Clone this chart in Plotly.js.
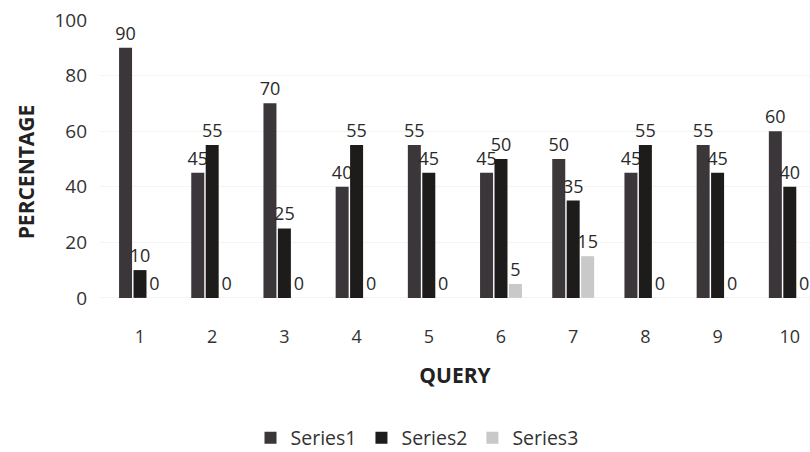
<!DOCTYPE html>
<html><head><meta charset="utf-8">
<script src="https://cdn.plot.ly/plotly-3.0.1.min.js"></script>
<style>body{margin:0;background:#fff}#c{width:810px;height:452px}</style>
</head><body><div id="c"></div>
<script>
const queries = [1,2,3,4,5,6,7,8,9,10];
const tickLabels = ["1","2","3","4","5","6","7","8","9","10"];
const series1 = [90,45,70,40,55,45,50,45,55,60];
const series2 = [10,55,25,55,45,50,35,55,45,40];
const series3 = [0,0,0,0,0,5,15,0,0,0];
const names = ["Series1","Series2","Series3"];
const colors = ["#3a3639","#1e1b1b","#c9c9c9"];
const font = {family:"Open Sans, Lato, sans-serif", color:"#333"};
const data = [series1,series2,series3].map((s,i)=>({
  type:"bar", x:queries, y:s, name:names[i],
  marker:{color:colors[i]},
  text:s.map(String), textposition:"outside", cliponaxis:false, constraintext:"none",
  textfont:{size:18, color:"#2a2a2a", family:font.family}
}));
const layout = {
  width:810, height:452,
  margin:{l:100,r:0,t:20,b:128, autoexpand:false},
  paper_bgcolor:"#fff", plot_bgcolor:"#fff",
  font:font,
  barmode:"group", bargap:0.4, bargroupgap:0.1,
  xaxis:{range:[0.446,10.28], tickvals:queries, ticktext:tickLabels,
    showgrid:false, zeroline:false, ticks:"",
    tickfont:{size:18,color:"#333"},
    title:{text:"<b>QUERY</b>", font:{size:21,color:"#222"}, standoff:21}},
  yaxis:{range:[-9.4,100], tickvals:[0,20,40,60,80,100], showgrid:true, gridcolor:"#f4f4f4", zeroline:false,
    ticks:"", ticklabelstandoff:12,
    tickfont:{size:19,color:"#333"},
    title:{text:"<b>PERCENTAGE</b>", font:{size:21,color:"#222"}, standoff:14}},
  showlegend:true,
  legend:{orientation:"h", x:0.4465, xref:"paper", xanchor:"center", y:-0.375, yanchor:"middle",
    font:{size:19.5,color:"#333"}, itemwidth:30}
};
Plotly.newPlot("c", data, layout, {displayModeBar:false, staticPlot:true});
</script></body></html>
